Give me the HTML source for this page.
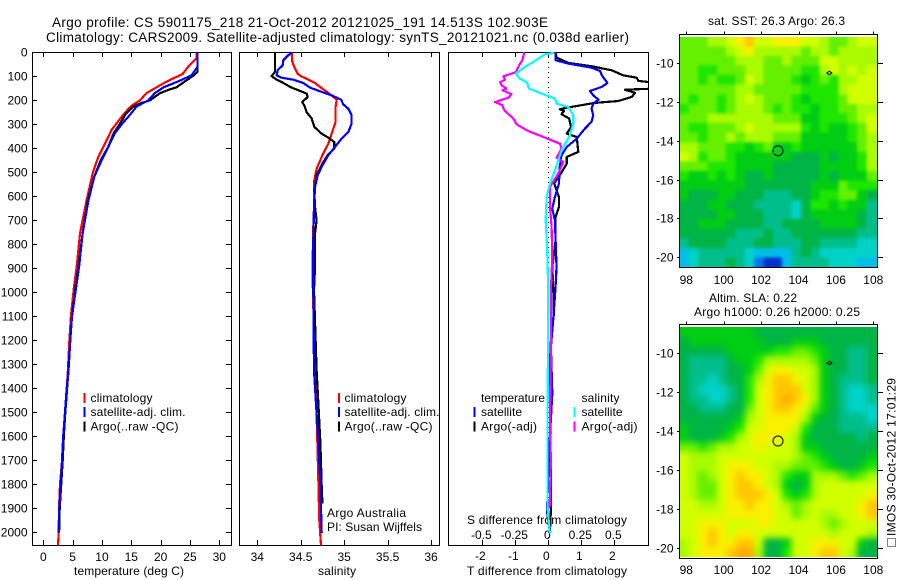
<!DOCTYPE html>
<html lang="en">
<head>
<meta charset="utf-8">
<title>Argo profile chart</title>
<style>
html,body{margin:0;padding:0;background:#fff;}
svg{display:block;}
text{font-family:"Liberation Sans",sans-serif;font-size:12px;fill:#000;}
</style>
</head>
<body>
<svg id="chart" xmlns="http://www.w3.org/2000/svg" width="900" height="580" viewBox="0 0 900 580">
<defs>
<filter id="sstSmooth" x="-5%" y="-5%" width="110%" height="110%" color-interpolation-filters="sRGB">
<feGaussianBlur stdDeviation="1.6"/>
<feComponentTransfer><feFuncA type="linear" slope="30"/></feComponentTransfer>
</filter>
<filter id="slaSmooth" x="-5%" y="-5%" width="110%" height="110%" color-interpolation-filters="sRGB">
<feGaussianBlur stdDeviation="3.2"/>
<feComponentTransfer><feFuncA type="linear" slope="30"/></feComponentTransfer>
</filter>
<clipPath id="diffClip"><rect x="448" y="52" width="200" height="493"/></clipPath>
<clipPath id="sstClip"><rect x="680" y="37" width="197" height="230"/></clipPath>
<clipPath id="slaClip"><rect x="680" y="327" width="197" height="230"/></clipPath>
</defs>
<rect x="0" y="0" width="900" height="580" fill="#fff"/>
<text x="52" y="27" textLength="496" style="font-size:13.5px">Argo profile: CS 5901175_218 21-Oct-2012 20121025_191 14.513S 102.903E</text>
<text x="46" y="42" textLength="583" style="font-size:13.5px">Climatology: CARS2009. Satellite-adjusted climatology: synTS_20121021.nc (0.038d earlier)</text>
<text x="74" y="575" textLength="110">temperature (deg C)</text>
<text x="318" y="575" textLength="38">salinity</text>
<text x="467" y="575" textLength="160">T difference from climatology</text>
<text x="467" y="524" textLength="160">S difference from climatology</text>
<text x="327" y="517" textLength="79">Argo Australia</text>
<text x="327" y="531" textLength="95">PI: Susan Wijffels</text>
<text x="708" y="25" textLength="137">sat. SST: 26.3 Argo: 26.3</text>
<text x="709" y="302" textLength="88">Altim. SLA: 0.22</text>
<text x="694" y="316" textLength="166">Argo h1000: 0.26 h2000: 0.25</text>
<rect x="887.5" y="538.5" width="8" height="8" fill="none" stroke="#000" stroke-width="1" stroke-dasharray="1 1"/>
<text transform="translate(895.5,536) rotate(-90)" textLength="158">IMOS 30-Oct-2012 17:01:29</text>
</svg>
<script>
// ---------- Temperature panel data (depth in m, value in deg C)
var tempClimDepths=[0,25,40,60,90,122,146,170,200,224,260,296,323,380,435,505,615,755,893,977,1100,1200,1325,1400,1500,1600,1700,1800,1900,2000,2054];
var tempClimValues=[26.15,26.1,25.5,24.7,23.76,21.03,19.3,17.6,16.48,14.95,13.64,12.5,11.65,10.52,9.38,8.4,7.39,6.26,5.69,5.23,4.7,4.45,4.2,4.0,3.75,3.45,3.2,2.85,2.68,2.62,2.5];
var tempArgoDepths=[0,80,95,122,146,154,170,200,213,226,255,296,337,393,449,518,615,755,893,977,1100,1200,1325,1400,1500,1600,1700,1800,1900,2000];
var tempArgoValues=[26.3,26.3,25.7,24.1,22.7,21.6,19.9,18.2,16.5,15.35,14.1,13.1,12,11.1,9.8,8.7,7.6,6.7,6,5.5,4.9,4.6,4.3,4.05,3.75,3.5,3.3,3.05,2.8,2.7];
var tempSatDepths=[0,60,95,115,146,170,200,226,260,296,337,393,449,518,615,755,893,977,1100,1200,1325,1400,1500,1600,1700,1800,1900,2000];
var tempSatValues=[26.3,26.3,25.3,23.6,20.5,19,17.9,15.9,14.8,13.5,12.2,11.1,9.95,8.7,7.7,6.7,6.1,5.6,4.9,4.6,4.27,3.98,3.7,3.4,3.19,2.96,2.73,2.62];
// ---------- Salinity panel data
var salClimDepths=[0,40,61,89,100,110,128,144,169,197,228,290,318,381,429,485,533,644,728,880,1000,1200,1400,1742,1950,2054];
var salClimValues=[34.395,34.403,34.426,34.464,34.503,34.568,34.664,34.722,34.818,34.914,34.902,34.902,34.875,34.818,34.749,34.683,34.656,34.653,34.645,34.637,34.64,34.655,34.675,34.7,34.714,34.733];
var salArgoDepths=[0,82,99,114,128,147,158,172,186,207,228,249,276,311,339,356,374,401,429,464,512,575,644,700,756,894,992,1325,1464,1630,1810,1880];
var salArgoValues=[34.203,34.203,34.165,34.223,34.299,34.395,34.472,34.568,34.58,34.518,34.549,34.568,34.626,34.656,34.741,34.818,34.887,34.887,34.81,34.749,34.683,34.656,34.664,34.683,34.664,34.664,34.653,34.683,34.703,34.726,34.741,34.749];
var salSatDepths=[0,12,33,54,75,96,106,114,128,147,165,179,197,217,235,263,297,332,360,394,429,471,512,561,644,783,992,1325,1464,1630,1810,2003];
var salSatValues=[34.395,34.357,34.299,34.292,34.234,34.223,34.28,34.415,34.53,34.607,34.741,34.856,34.964,34.99,35.048,35.086,35.086,35.048,34.971,34.894,34.818,34.749,34.695,34.664,34.653,34.645,34.645,34.653,34.676,34.703,34.726,34.741];
// ---------- Difference panel data (T in deg C, S in psu)
var dtSatDepths=[0,33,47,64,78,96,128,144,161,179,197,214,235,263,290,318,360,394,429,478,547,603,651,700,783,894,950,1019,1144,1228,1422,1600,1750,1880,1922,2000];
var dtSatValues=[.22,.22,.61,1.31,1.57,1.62,1.79,1.62,1.26,1.36,1.52,1.36,1.31,1.36,1.31,1.11,.86,.56,.40,.35,.32,.20,.12,.20,.22,.25,.23,.20,.13,.08,.12,.05,0,-.03,-.03,.05];
var dtArgoDepths=[0,22,44,58,75,96,106,119,128,151,156,169,186,203,211,231,237,244,258,276,311,339,353,415,436,464,512,547,603,644,686,783,894,992,1089,1200,1300,1450,1600,1742,1908,2000];
var dtArgoValues=[.22,.25,.61,1.31,1.92,2.27,2.68,2.73,3.3,3.3,2.32,2.63,2.53,2.12,1.41,.56,.35,.48,.40,.63,.69,.56,.86,.91,.56,.56,.35,.18,.32,.32,.22,.22,.12,.15,.17,.08,.05,.05,.06,.08,.08,.05];
var dsSatDepths=[0,3,8,36,61,89,110,124,151,172,193,214,228,262,297,346,408,492,547,603,700,825,992,1500,1900,2005];
var dsSatValues=[.04,.04,-.025,-.101,-.177,-.247,-.215,-.164,-.146,-.05,.05,.063,.152,.189,.189,.164,.101,.05,.013,-.013,-.02,-.008,0,-.005,-.005,.012];
var dsArgoDepths=[0,33,54,82,100,114,124,138,151,158,175,189,207,221,242,276,300,328,350,381,401,439,457,505,561,644,728,853,992,1255,1400,1550,1700,1900];
var dsArgoValues=[-.182,-.197,-.222,-.245,-.341,-.328,-.366,-.354,-.316,-.348,-.278,-.303,-.404,-.348,-.333,-.265,-.24,-.152,-.05,.088,.101,.063,.114,.076,.013,.013,.025,.03,.02,.02,.015,.012,.02,.01];
// ---------- Axis tick values
var depthTicks=[0,100,200,300,400,500,600,700,800,900,1000,1100,1200,1300,1400,1500,1600,1700,1800,1900,2000];
var tempTicks=[0,5,10,15,20,25,30];
var salTicks=[34,34.5,35,35.5,36];
var dtTicks=[-2,-1,0,1,2];
var dsTickLabels=["-0.5","-0.25","0","0.25","0.5"];
var lonTicks=[98,100,102,104,106,108];
var latTicks=[10,12,14,16,18,20];
var argoLon=102.903;
var argoLat=14.513;
var islandLon=105.65;
var islandLat=10.5;
// ---------- Map data: colour level per 0.5-degree cell, north to south
var sstLevels=[
[8,8,8,9,9,10,11,12,10,10,11,11,11,10,10,9,8,8,9,10,10],
[8,8,8,8,8,9,10,11,9,9,9,9,9,8,9,9,8,9,9,9,9],
[8,8,8,8,8,8,9,9,9,8,8,9,8,8,8,10,10,9,9,9,9],
[8,8,7,7,8,8,8,9,9,8,8,8,8,7,7,9,10,9,10,9,10],
[8,8,7,8,7,7,8,10,9,8,8,8,7,6,7,8,7,9,9,10,10],
[8,8,8,8,8,8,9,9,8,8,8,8,8,7,7,7,7,9,10,10,10],
[8,7,8,8,7,8,9,10,9,8,8,8,7,6,7,7,7,8,10,10,10],
[7,8,8,8,7,8,9,9,9,8,7,8,7,7,6,7,7,8,8,9,9],
[8,8,8,9,9,9,9,9,9,9,8,8,8,6,6,7,7,7,8,9,10],
[8,7,7,8,8,8,9,10,9,9,9,9,9,7,6,7,6,6,7,8,10],
[8,8,7,8,8,9,8,9,9,9,8,8,8,6,6,6,6,6,7,8,9],
[9,9,8,8,8,7,7,6,7,8,6,6,7,6,6,6,6,6,6,8,9],
[10,9,7,8,8,7,6,6,6,6,6,6,5,5,5,6,5,6,6,7,9],
[8,8,8,7,7,7,6,6,6,6,5,5,5,5,5,6,6,6,6,7,9],
[7,6,6,7,6,7,6,5,5,6,5,5,5,5,5,6,5,6,6,6,8],
[6,6,6,6,6,6,6,5,5,5,5,5,5,5,6,6,6,8,7,7,7],
[6,5,5,5,6,6,5,5,5,4,4,4,5,5,6,7,7,8,8,6,5],
[5,5,5,6,6,5,5,5,4,4,4,4,3,5,7,7,6,7,6,6,4],
[5,5,5,5,6,6,5,5,5,4,4,4,3,5,6,6,6,6,6,5,4],
[5,5,6,6,6,5,5,5,5,4,4,5,5,5,5,6,6,6,6,5,4],
[5,5,5,5,5,5,4,4,4,5,4,4,5,5,5,5,5,5,5,4,4],
[4,5,5,5,5,4,4,4,5,5,4,4,4,5,5,4,4,4,4,3,3],
[2,3,4,4,4,4,4,3,2,2,2,2,4,5,4,3,3,3,3,3,3],
[2,3,4,4,4,5,4,3,1,0,0,2,4,4,4,4,3,3,3,2,2]
];
var slaLevels=[
[6,6,6,6,6,6,6,6,5,5,5,5,5,5,5,5,5,5,5,5,5],
[5,6,6,6,6,6,6,6,6,5,5,5,6,6,6,5,5,5,5,5,5],
[5,5,5,5,5,6,6,6,6,6,7,7,8,8,7,6,5,5,4,4,5],
[5,4,4,4,4,5,6,6,7,9,9,9,9,9,8,6,5,5,4,4,5],
[5,4,4,4,4,5,5,6,8,10,11,11,10,10,9,6,5,5,4,4,5],
[5,4,4,3,4,5,5,7,9,11,12,12,11,10,9,6,5,4,4,4,5],
[5,4,3,3,3,4,5,7,10,11,12,12,12,10,9,6,5,4,3,3,4],
[5,4,4,3,3,4,5,7,10,11,12,13,12,11,9,6,5,4,3,3,4],
[5,5,4,4,4,5,5,8,10,11,12,12,11,10,8,6,5,4,3,3,3],
[5,5,5,5,5,5,6,9,10,11,11,11,11,9,6,5,5,4,4,4,3],
[6,5,5,5,5,6,7,10,10,11,11,11,10,7,5,5,5,4,4,4,4],
[6,5,5,5,6,7,9,10,11,11,11,10,9,6,5,5,5,5,5,4,5],
[8,8,7,8,9,9,10,10,11,10,10,10,9,6,6,5,5,5,5,5,5],
[10,9,9,9,10,10,10,10,10,10,10,10,9,8,7,6,5,5,5,5,6],
[10,9,9,9,10,11,11,11,10,10,9,9,8,8,8,7,6,5,5,6,7],
[10,9,8,9,10,11,12,11,11,10,9,7,6,6,9,9,9,8,7,8,9],
[10,9,8,8,10,11,12,12,11,10,9,6,5,6,9,10,10,10,10,10,10],
[10,9,8,8,10,11,12,12,12,11,10,7,6,7,9,10,10,10,10,10,11],
[10,10,9,9,10,11,11,12,11,11,10,9,8,9,10,10,10,10,10,11,12],
[10,10,10,10,10,11,11,11,11,11,10,10,8,9,10,9,9,10,10,11,12],
[10,10,11,11,11,10,10,10,11,11,10,10,10,10,10,9,8,9,10,10,10],
[10,10,11,12,11,10,11,11,10,10,10,10,10,10,10,10,9,10,10,10,9],
[9,10,11,12,11,11,12,12,10,5,5,6,10,10,11,11,11,10,10,6,5],
[9,10,11,11,11,12,13,13,9,5,5,7,10,10,11,12,12,10,9,5,5]
];

var NS="http://www.w3.org/2000/svg";
var svg=document.getElementById("chart");
var levelColors=["#0033cc","#0078f0","#00bee8","#00d2c8","#00be8c","#00b446","#00cd14","#1ee600","#64f000","#aafa00","#d2ff00","#faf000","#ffc800","#ffaa00"];

// axis functions
function yDepth(d){return 52.3+d*0.24;}
function xTemp(v){return 43.3+v*5.867;}
function xSal(v){return 257.3+(v-34)*86.85;}
function xDT(v){return 548.3+v*33;}
function xDS(v){return 548.3+v*132;}
function xLon(v){return 686.3+(v-98)*18.7;}
function ySst(v){return 63.3+(v-10)*19.37;}
function ySla(v){return 353.3+(v-10)*19.44;}

function mk(tag,attrs,parent){
  var e=document.createElementNS(NS,tag);
  for(var k in attrs){e.setAttribute(k,attrs[k]);}
  (parent||svg).appendChild(e);
  return e;
}
function line(x1,y1,x2,y2,name){
  var l=mk("line",{x1:x1,y1:y1,x2:x2,y2:y2,stroke:"#000","stroke-width":1,"shape-rendering":"crispEdges"});
  
  
  return l;
}
function label(x,y,txt,anchor,name,len){
  var t=mk("text",{x:x,y:y,"text-anchor":anchor});
  if(len){t.setAttribute("textLength",len);}
  t.textContent=txt;
  
  
  return t;
}
function frame(x,y,w,h,name){
  var r=mk("rect",{x:x,y:y,width:w,height:h,fill:"none",stroke:"#000","stroke-width":1,"shape-rendering":"crispEdges"});
  
  
  return r;
}
function series(depths,values,xf,color,name,clip){
  var pts=[];
  for(var i=0;i<depths.length;i++){pts.push(xf(values[i]).toFixed(1)+","+yDepth(depths[i]).toFixed(1));}
  var p=mk("polyline",{points:pts.join(" "),fill:"none",stroke:color,"stroke-width":2.2,"stroke-linejoin":"round","shape-rendering":"crispEdges"});
  if(clip){p.setAttribute("clip-path","url(#"+clip+")");}
  
  
  return p;
}
function swatch(x,y,color,name){
  var r=mk("rect",{x:x,y:y,width:2,height:10,fill:color});
  
  
  return r;
}
function legendRow(bx,tx,cy,color,txt,base,len){
  swatch(bx,cy-5,color,base+"-swatch");
  label(tx,cy+4,txt,"start",base+"-label",len);
}

// Temperature panel
var i,v;
frame(32.5,52.5,199,493,"temperature-panel-frame");
for(i=0;i<depthTicks.length;i++){
  v=depthTicks[i];
  var ty=Math.round(yDepth(v));
  line(32,ty+.5,37,ty+.5,"temperature-depth-tick-left");
  line(226,ty+.5,231,ty+.5,"temperature-depth-tick-right");
  label(27.5,ty+4.5,String(v),"end","depth-tick-label");
}
for(i=0;i<tempTicks.length;i++){
  v=tempTicks[i];
  var tx=Math.round(xTemp(v));
  line(tx+.5,52,tx+.5,57,"temperature-tick-top");
  line(tx+.5,540,tx+.5,545,"temperature-tick-bottom");
  label(xTemp(v),561,String(v),"middle","temperature-tick-label");
}
series(tempClimDepths,tempClimValues,xTemp,"#ff0000","temperature-climatology-line");
series(tempArgoDepths,tempArgoValues,xTemp,"#000000","temperature-argo-line");
series(tempSatDepths,tempSatValues,xTemp,"#0000ff","temperature-satellite-line");
legendRow(83.5,90.5,398,"#ff0000","climatology","temperature-legend-climatology",62);
legendRow(83.5,90.5,412,"#0000ff","satellite-adj. clim.","temperature-legend-satellite",95);
legendRow(83.5,90.5,426.5,"#000000","Argo(..raw -QC)","temperature-legend-argo",88);

// Salinity panel
frame(239.5,52.5,200,493,"salinity-panel-frame");
for(i=0;i<salTicks.length;i++){
  v=salTicks[i];
  var sx=Math.round(xSal(v));
  line(sx+.5,52,sx+.5,57,"salinity-tick-top");
  line(sx+.5,540,sx+.5,545,"salinity-tick-bottom");
  label(xSal(v),561,String(v),"middle","salinity-tick-label");
}
series(salClimDepths,salClimValues,xSal,"#ff0000","salinity-climatology-line");
series(salArgoDepths,salArgoValues,xSal,"#000000","salinity-argo-line");
series(salSatDepths,salSatValues,xSal,"#0000ff","salinity-satellite-line");
legendRow(338,344.5,398,"#ff0000","climatology","salinity-legend-climatology",62);
legendRow(338,344.5,412,"#0000ff","satellite-adj. clim.","salinity-legend-satellite",95);
legendRow(338,344.5,426.5,"#000000","Argo(..raw -QC)","salinity-legend-argo",88);

// Difference panel
frame(448.5,52.5,200,493,"difference-panel-frame");
var zero=mk("line",{x1:xDT(0),y1:52,x2:xDT(0),y2:545,stroke:"#000","stroke-width":1,"stroke-dasharray":"1 4","shape-rendering":"crispEdges"});


for(i=0;i<dtTicks.length;i++){
  v=dtTicks[i];
  var dx=Math.round(xDT(v));
  line(dx+.5,52,dx+.5,57,"difference-tick-top");
  line(dx+.5,540,dx+.5,545,"difference-tick-bottom");
  label(xDT(v)-2,560,String(v),"middle","t-difference-tick-label");
  label(xDT(v)-1,539,dsTickLabels[i],"middle","s-difference-tick-label");
}
series(dtArgoDepths,dtArgoValues,xDT,"#000000","t-difference-argo-line","diffClip");
series(dtSatDepths,dtSatValues,xDT,"#0000ff","t-difference-satellite-line","diffClip");
series(dsArgoDepths,dsArgoValues,xDS,"#ff00ff","s-difference-argo-line","diffClip");
series(dsSatDepths,dsSatValues,xDS,"#00ffff","s-difference-satellite-line","diffClip");
label(481,402,"temperature","start","difference-legend-temperature-heading",64);
label(581.5,402,"salinity","start","difference-legend-salinity-heading",38);
legendRow(473.5,481,412,"#0000ff","satellite","difference-legend-t-satellite",41);
legendRow(473.5,481,426.5,"#000000","Argo(-adj)","difference-legend-t-argo",56);
legendRow(573.5,581.5,412,"#00ffff","satellite","difference-legend-s-satellite",41);
legendRow(573.5,581.5,426.5,"#ff00ff","Argo(-adj)","difference-legend-s-argo",56);

// Maps
function drawMap(levels,yf,top,bottom,base,tickY,filterId,clipId){
  var latTop=yf.inv(top);
  var lonStart=97.63,step=0.5;
  var latStep=(yf.inv(bottom)-latTop)/levels.length;
  var outer=mk("g",{"clip-path":"url(#"+clipId+")"});
  
  
  var inner=mk("g",{filter:"url(#"+filterId+")"},outer);
  
  
  for(var r=0;r<levels.length;r++){
    for(var c=0;c<levels[r].length;c++){
      var x0=xLon(lonStart+c*step),x1=xLon(lonStart+(c+1)*step);
      var y0=yf(latTop+r*latStep),y1=yf(latTop+(r+1)*latStep);
      var cell=mk("rect",{x:x0.toFixed(1),y:y0.toFixed(1),width:(x1-x0+.3).toFixed(1),height:(y1-y0+.3).toFixed(1),fill:levelColors[levels[r][c]],"shape-rendering":"crispEdges"},inner);
      
      
    }
  }
  var fx=679.5,fw=198,fy=Math.floor(top)-1.5,fb=Math.ceil(bottom);
  frame(fx,fy,fw,fb-fy+.5,base+"-frame");
  for(var i=0;i<lonTicks.length;i++){
    var lt=Math.round(xLon(lonTicks[i]));
    line(lt+.5,fy-3,lt+.5,fy,base+"-lon-tick");
    label(xLon(lonTicks[i]),tickY,String(lonTicks[i]),"middle",base+"-lon-tick-label");
  }
  for(i=0;i<latTicks.length;i++){
    var yy=Math.round(yf(latTicks[i]));
    line(677,yy+.5,680,yy+.5,base+"-lat-tick-left");
    line(878,yy+.5,883,yy+.5,base+"-lat-tick-right");
    label(673.5,yy+4.5,"-"+latTicks[i],"end",base+"-lat-tick-label");
  }
  var circle=mk("circle",{cx:xLon(argoLon),cy:yf(argoLat),r:5,fill:"none",stroke:"#000","stroke-width":1});
  
  
  var ix=xLon(islandLon),iy=yf(islandLat);
  var isl=mk("polygon",{points:(ix-2.5)+","+iy+" "+ix+","+(iy-1.8)+" "+(ix+2.5)+","+iy+" "+ix+","+(iy+1.8),fill:"none",stroke:"#000","stroke-width":1});
  
  
}
ySst.inv=function(p){return 10+(p-63.3)/19.37;};
ySla.inv=function(p){return 10+(p-353.3)/19.44;};
drawMap(sstLevels,ySst,36.7,267,"sst-map",284,"sstSmooth","sstClip");
drawMap(slaLevels,ySla,326.7,557.3,"sla-map",574,"slaSmooth","slaClip");
</script>
</body>
</html>
